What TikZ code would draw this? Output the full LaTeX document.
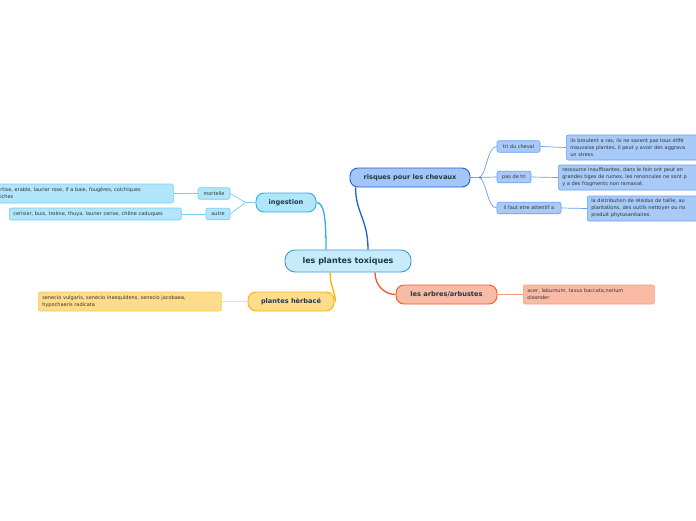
\documentclass[tikz,border=0pt]{standalone}
\usepackage{fontspec}
\setmainfont{DejaVu Sans}
\usetikzlibrary{positioning}

\definecolor{rootfill}{HTML}{C7EBFB}
\definecolor{rootline}{HTML}{3A9AD9}
\definecolor{riskfill}{HTML}{A3C6F7}
\definecolor{riskline}{HTML}{1E62D0}
\definecolor{risksub}{HTML}{A8CAF8}
\definecolor{risksubline}{HTML}{6A9FEE}
\definecolor{ingfill}{HTML}{B0E5FB}
\definecolor{ingline}{HTML}{2BB0E4}
\definecolor{ingsubline}{HTML}{74CFF1}
\definecolor{herbfill}{HTML}{FFDC8C}
\definecolor{herbline}{HTML}{F6B400}
\definecolor{herbsubline}{HTML}{FCC94E}
\definecolor{treefill}{HTML}{F9BBA6}
\definecolor{treeline}{HTML}{EE5A2C}
\definecolor{treesubline}{HTML}{F49A7D}
\definecolor{topictext}{HTML}{1D3C45}
\definecolor{leaftext}{HTML}{333333}

\begin{document}
\begin{tikzpicture}[x=1pt,y=-1pt]

    \useasboundingbox (0,0) rectangle (696,520);
    \clip (0,0) rectangle (696,520);
    \fill[white] (0,0) rectangle (696,520);

    \tikzset{
        topic/.style={draw, rounded corners=8pt, line width=0.9pt, inner sep=0pt,
            minimum height=19pt, text=topictext, font=\fontsize{6.6}{7}\selectfont\bfseries},
        tag/.style={draw, rounded corners=2pt, line width=0.6pt, inner sep=0pt,
            minimum height=11.5pt, text=leaftext, font=\fontsize{5}{7}\selectfont},
        leaf/.style={tag, align=left, inner xsep=4pt, inner ysep=2pt, anchor=west},
        trunk/.style={line width=1.3pt},
        twig/.style={line width=0.7pt}
    }

    % Centre
    \node[topic, fill=rootfill, draw=rootline, minimum width=126pt, minimum height=22pt,
        rounded corners=10pt, font=\fontsize{8}{9}\selectfont\bfseries] (root) at (348,261) {les plantes toxiques};

    % Main branches
    \node[topic, fill=riskfill, draw=riskline, minimum width=120pt] (risk) at (410,177.5) {risques pour les chevaux};
    \node[topic, fill=ingfill, draw=ingline, minimum width=60pt] (ing) at (286,202.5) {ingestion};
    \node[topic, fill=herbfill, draw=herbline, minimum width=86pt] (herb) at (291,301.5) {plantes hèrbacé};
    \node[topic, fill=treefill, draw=treeline, minimum width=101pt] (tree) at (446.5,294.5) {les arbres/arbustes};

    \draw[trunk, riskline] ([xshift=20pt]root.north) .. controls +(0,-30) and +(0,25) .. ([xshift=6pt]risk.south west);
    \draw[trunk, ingline] ([xshift=-22pt]root.north) .. controls +(0,-30) and +(8,0) .. (ing.east);
    \draw[trunk, herbline] ([xshift=-18pt]root.south) .. controls +(0,14) and +(4,0) .. (herb.east);
    \draw[trunk, treeline] ([xshift=27pt]root.south) .. controls +(0,14) and +(-10,0) .. (tree.west);

    % ingestion
    \node[tag, fill=ingfill, draw=ingsubline, minimum width=32pt] (mort) at (214,193.5) {mortelle};
    \node[tag, fill=ingfill, draw=ingsubline, minimum width=24pt] (autre) at (218,214) {autre};
    \node[leaf, fill=ingfill, draw=ingsubline, text width=169pt, minimum height=19pt] (mortleaf) at (-4,193.5)
        {rtise, erable, laurier rose, if a baie, fougères, colchiques\\iches};
    \node[leaf, fill=ingfill, draw=ingsubline, text width=164pt, minimum height=12pt] (autreleaf) at (9,214)
        {cerisier, buis, troène, thuya, laurier cerise, chêne caduques};

    \draw[twig, ingsubline] (ing.west) -- ++(-10,0) coordinate (ingfork);
    \draw[twig, ingsubline] (ingfork) -- (mort.east);
    \draw[twig, ingsubline] (ingfork) -- (autre.east);
    \draw[twig, ingsubline] (mort.west) -- (mortleaf.east);
    \draw[twig, ingsubline] (autre.west) -- (autreleaf.east);

    % risques
    \node[tag, fill=risksub, draw=risksubline, minimum width=43pt] (tri) at (518.5,146.5) {tri du cheval};
    \node[tag, fill=risksub, draw=risksubline, minimum width=34pt] (pastri) at (514,177) {pas de tri};
    \node[tag, fill=risksub, draw=risksubline, minimum width=64pt] (attentif) at (529,208) {il faut etre attentif a};
    \node[leaf, fill=risksub, draw=risksubline, text width=160pt, minimum height=25pt] (trileaf) at (566,147.5)
        {ils broutent a ras, ils ne savent pas tous diffé\\mauvaise plantes, il peut y avoir des aggrava\\un stress.};
    \node[leaf, fill=risksub, draw=risksubline, text width=160pt, minimum height=25pt] (pasleaf) at (558,177.5)
        {ressource insuffisantes, dans le foin ont peut en\\grandes tiges de rumex, les renoncules ne sont p\\y a des fragments non ramassé.};
    \node[leaf, fill=risksub, draw=risksubline, text width=160pt, minimum height=25pt] (attleaf) at (587,208.5)
        {la distribution de résidus de taille, au\\plantations, des outils nettoyer ou no\\produit phytosanitaires.};

    \draw[twig, risksubline] (risk.east) -- ++(8,0) coordinate (riskfork);
    \draw[twig, risksubline] (riskfork) .. controls +(8,0) and +(-10,0) .. (tri.west);
    \draw[twig, risksubline] (riskfork) -- (pastri.west);
    \draw[twig, risksubline] (riskfork) .. controls +(8,0) and +(-10,0) .. (attentif.west);
    \draw[twig, risksubline] (tri.east) -- (trileaf.west);
    \draw[twig, risksubline] (pastri.east) -- (pasleaf.west);
    \draw[twig, risksubline] (attentif.east) -- (attleaf.west);

    % herbace + arbres
    \node[leaf, fill=herbfill, draw=herbsubline, text width=175pt, minimum height=19pt] (herbleaf) at (38,301.5)
        {senecio vulgaris, senecio inaequidens, senecio jacobaea,\\hypochaeris radicata};
    \node[leaf, fill=treefill, draw=treesubline, text width=123pt, minimum height=19pt] (treeleaf) at (523,294.5)
        {acer, laburnum, taxus baccata,nerium\\oleander};

    \draw[twig, herbsubline!60] (herb.west) -- (herbleaf.east);
    \draw[twig, treesubline] (tree.east) -- (treeleaf.west);

\end{tikzpicture}
\end{document}
